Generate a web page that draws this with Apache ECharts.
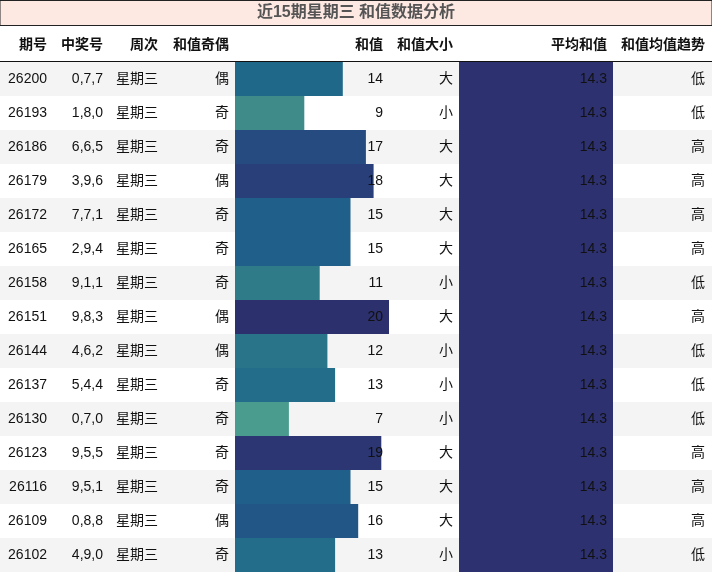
<!DOCTYPE html>
<html><head><meta charset="utf-8">
<script src="https://cdn.jsdelivr.net/npm/echarts@6/dist/echarts.min.js"></script>
<style>html,body{margin:0;padding:0;background:#fff}#main{width:712px;height:573px}</style>
</head><body><div id="main"></div>
<script>
var issues = ['26200','26193','26186','26179','26172','26165','26158','26151','26144','26137','26130','26123','26116','26109','26102'];
var numbers = ['0,7,7','1,8,0','6,6,5','3,9,6','7,7,1','2,9,4','9,1,1','9,8,3','4,6,2','5,4,4','0,7,0','9,5,5','9,5,1','0,8,8','4,9,0'];
var weekdays = ['星期三','星期三','星期三','星期三','星期三','星期三','星期三','星期三','星期三','星期三','星期三','星期三','星期三','星期三','星期三'];
var parity = ['偶','奇','奇','偶','奇','奇','奇','偶','偶','奇','奇','奇','奇','偶','奇'];
var sums = [14,9,17,18,15,15,11,20,12,13,7,19,15,16,13];
var sizes = ['大','小','大','大','大','大','小','大','小','小','小','大','大','大','小'];
var avgs = [14.3,14.3,14.3,14.3,14.3,14.3,14.3,14.3,14.3,14.3,14.3,14.3,14.3,14.3,14.3];
var trends = ['低','低','高','高','高','高','低','高','低','低','低','高','高','高','低'];
var headers = ['期号','中奖号','周次','和值奇偶','和值','和值大小','平均和值','和值均值趋势'];
var headerX = [47,103,158,229,383,453,607,705];

var sumColors = {7:'#4a9d8e',9:'#3e8b8a',11:'#2f7b88',12:'#2a7489',13:'#246d8a',14:'#1f6889',15:'#1f5f89',16:'#225687',17:'#254b80',18:'#283f79',19:'#2b3672',20:'#2c306c'};
var font = '"Liberation Sans","Noto Sans CJK SC",sans-serif';

var myChart = echarts.init(document.getElementById('main'));
var rows = issues.map(function (d, i) { return i; });
var txt = function (x, y, s) {
    return { type: 'text', x: x, y: y, style: { text: s, align: 'right', verticalAlign: 'middle', font: '14px ' + font, fill: '#111' }, z2: 10 };
};

var option = {
    animation: false,
    graphic: [
        { type: 'rect', shape: { x: 0, y: 0.5, width: 712, height: 25 }, style: { fill: '#fde8e2', stroke: '#222', lineWidth: 1 } },
        { type: 'text', x: 356, y: 13, style: { text: '近15期星期三 和值数据分析', align: 'center', verticalAlign: 'middle', font: 'bold 16px ' + font, fill: '#555' } },
        { type: 'line', shape: { x1: 0, y1: 61.5, x2: 712, y2: 61.5 }, style: { stroke: '#111', lineWidth: 1 } }
    ].concat(headers.map(function (h, i) {
        return { type: 'text', x: headerX[i], y: 45, style: { text: h, align: 'right', verticalAlign: 'middle', font: 'bold 14px ' + font, fill: '#111' } };
    })),
    grid: [
        { left: 0, right: 0, top: 62, bottom: 1 },
        { left: 235, width: 154, top: 62, bottom: 1 },
        { left: 459, width: 154, top: 62, bottom: 1 }
    ],
    xAxis: [
        { gridIndex: 0, type: 'value', min: 0, max: 712, show: false },
        { gridIndex: 1, type: 'value', min: 0, max: 20, show: false },
        { gridIndex: 2, type: 'value', min: 0, max: 14.3, show: false }
    ],
    yAxis: [0, 1, 2].map(function (g) {
        return { gridIndex: g, type: 'category', data: issues, inverse: true, show: false };
    }),
    series: [
        {
            type: 'custom', xAxisIndex: 0, yAxisIndex: 0, z: 1, data: rows,
            renderItem: function (params, api) {
                var i = api.value(0);
                var p = api.coord([0, i]);
                var h = api.size([0, 1])[1];
                return {
                    type: 'rect',
                    shape: { x: 0, y: p[1] - h / 2, width: 712, height: h },
                    style: { fill: i % 2 === 0 ? '#f4f4f4' : '#ffffff' }
                };
            },
            encode: { y: 0 }
        },
        {
            type: 'bar', xAxisIndex: 1, yAxisIndex: 1, z: 2, barWidth: '100%',
            data: sums.map(function (v) { return { value: v, itemStyle: { color: sumColors[v] } }; })
        },
        {
            type: 'bar', xAxisIndex: 2, yAxisIndex: 2, z: 2, barWidth: '100%',
            itemStyle: { color: '#2d3170' }, data: avgs
        },
        {
            type: 'custom', xAxisIndex: 0, yAxisIndex: 0, z: 5, data: rows,
            renderItem: function (params, api) {
                var i = api.value(0);
                var y = api.coord([0, i])[1];
                return {
                    type: 'group',
                    children: [
                        txt(47, y, issues[i]), txt(103, y, numbers[i]), txt(158, y, weekdays[i]),
                        txt(229, y, parity[i]), txt(383, y, String(sums[i])), txt(453, y, sizes[i]),
                        txt(607, y, avgs[i].toFixed(1)), txt(705, y, trends[i])
                    ]
                };
            },
            encode: { y: 0 }
        }
    ]
};
option && myChart.setOption(option);
</script></body></html>
